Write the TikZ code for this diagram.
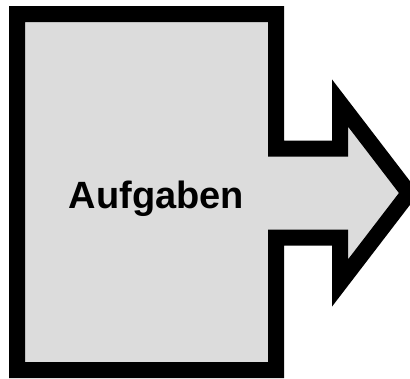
\documentclass[tikz,border=0pt]{standalone}
\usepackage{fontspec}
\setsansfont{Liberation Sans}
\definecolor{boxgray}{RGB}{220,220,220}

\tikzstyle{outline} = [draw=black, fill=boxgray, line width=16pt, line join=miter]
\tikzstyle{label} = [font=\sffamily\bfseries\fontsize{38}{44}\selectfont, text=black]

\begin{document}
\begin{tikzpicture}[x=1pt, y=-1pt]
    \useasboundingbox (0,0) rectangle (410,378);
    \draw [outline] (17,14) -- (276,14) -- (276,148.5) -- (340,148.5) -- (340,103)
        -- (409,193) -- (340,283) -- (340,237.5) -- (276,237.5) -- (276,370)
        -- (17,370) -- cycle;
    \node (task) [label] at (156.5,198.5) {Aufgaben};
\end{tikzpicture}
\end{document}
